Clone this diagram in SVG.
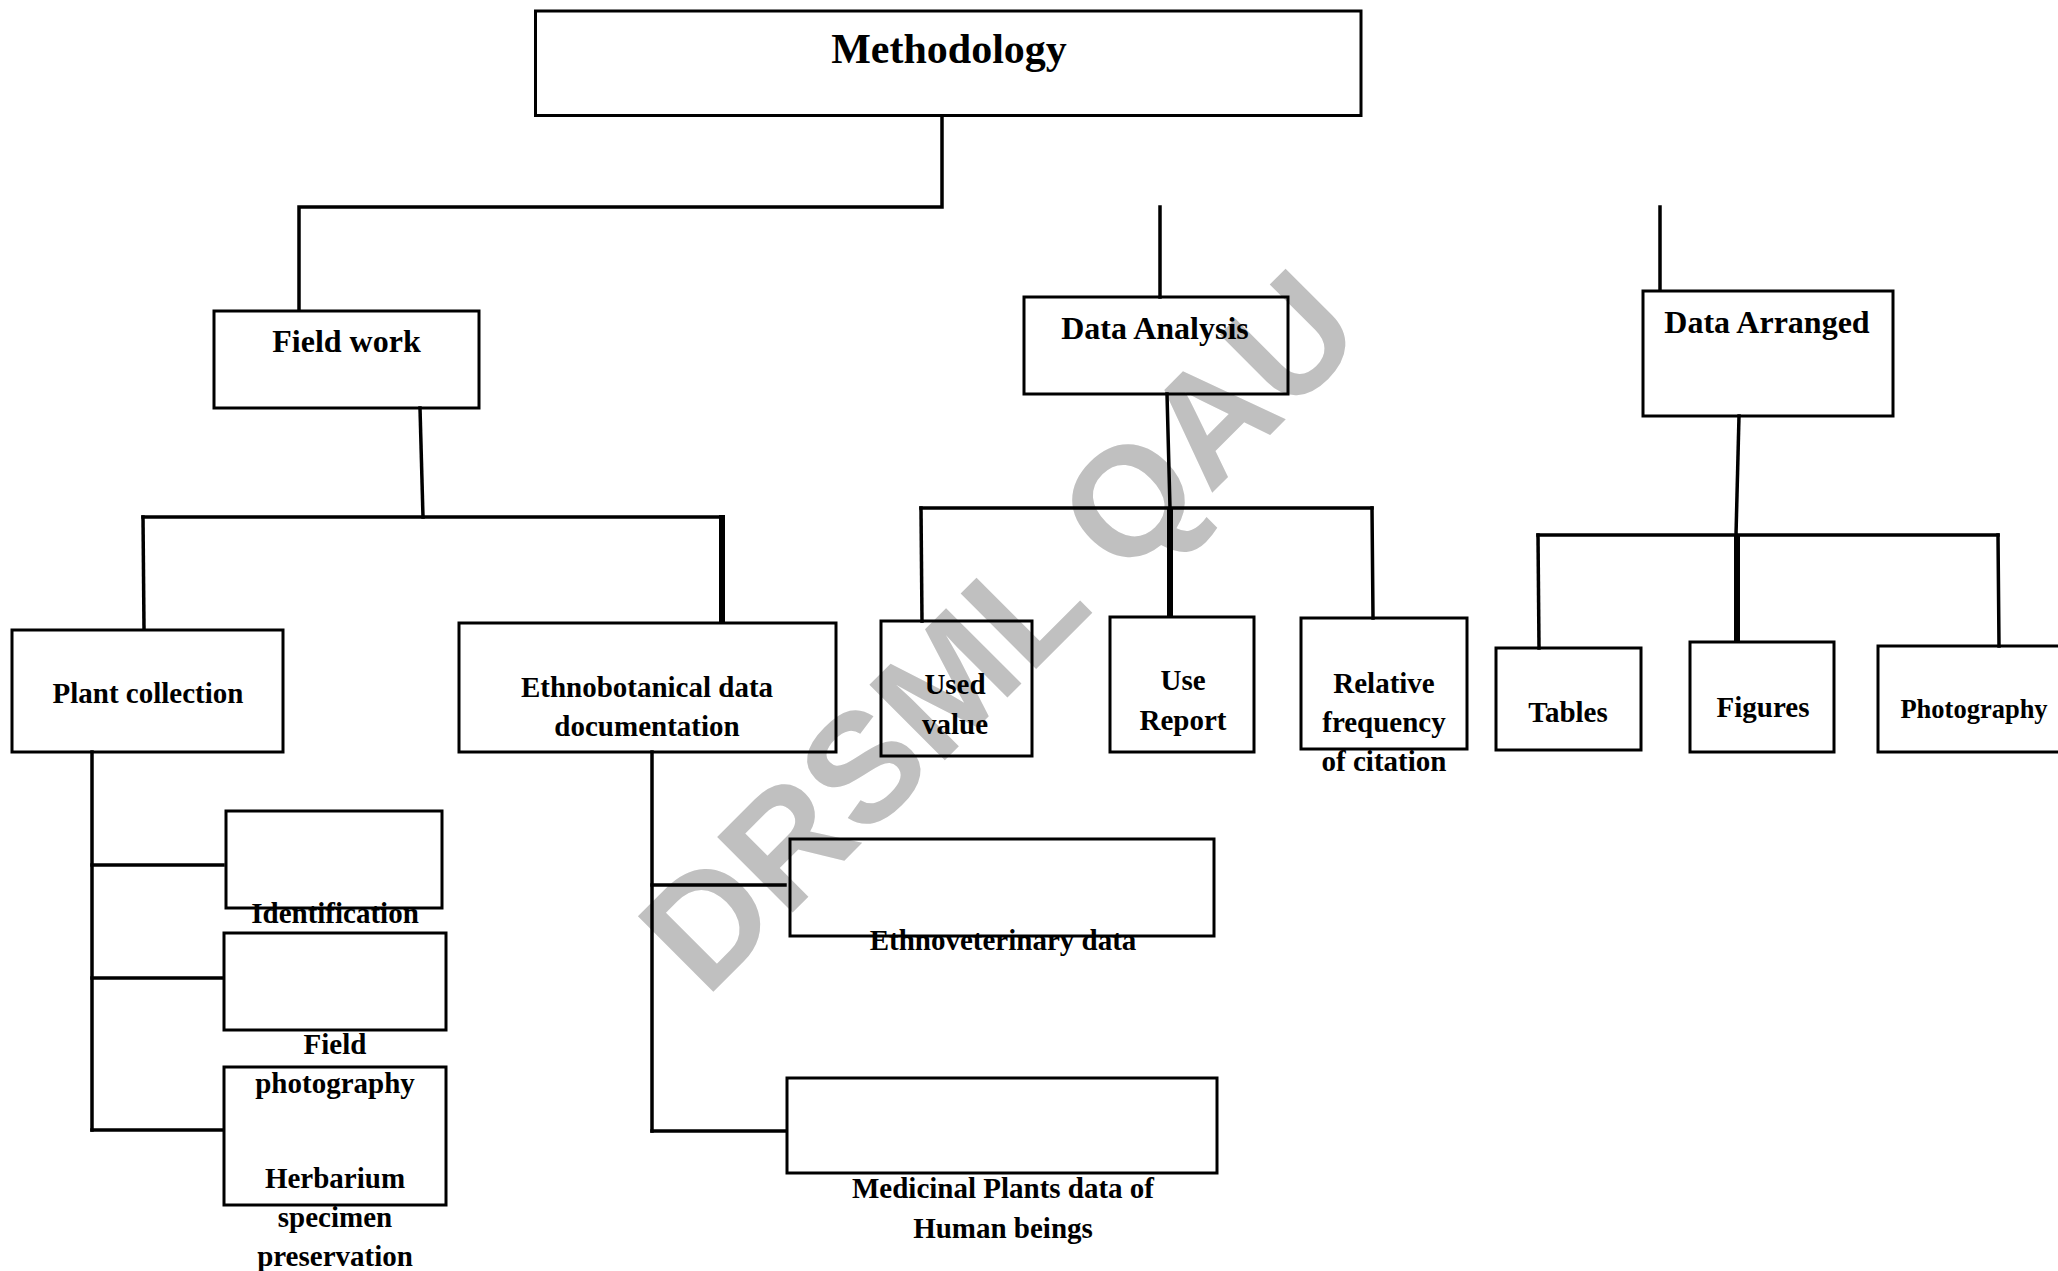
<svg xmlns="http://www.w3.org/2000/svg" width="2058" height="1271" viewBox="0 0 2058 1271">
<style>
.box{fill:none;stroke:#000;stroke-width:3}
.ln{fill:none;stroke:#000;stroke-width:3.5;stroke-linecap:square}
.thk{fill:none;stroke:#000;stroke-width:6}
text{font-family:"Liberation Serif","Times New Roman",serif;font-weight:bold;fill:#000;text-anchor:middle}
.h1{font-size:42px}
.h2{font-size:32px}
.t{font-size:29px}
.s{font-size:26.5px}
.wm{font-family:"Liberation Sans",Arial,sans-serif;font-weight:bold;font-size:155px;fill:#c0c0c0;text-anchor:start}
</style>
<rect width="2058" height="1271" fill="#fff"/>
<text class="wm" transform="translate(706,999) rotate(-45)">DRSML QAU</text>
<g id="connectors">
<path class="ln" d="M942,116 V207 H299 V310"/>
<path class="ln" d="M1160,207 V297"/>
<path class="ln" d="M1660,207 V290"/>
<path class="ln" d="M420,408 L423,517"/>
<path class="ln" d="M143,517 H722"/>
<path class="ln" d="M143,517 L144,629"/>
<path class="thk" d="M722,515 V622"/>
<path class="ln" d="M1167,394 L1170,508"/>
<path class="ln" d="M921,508 H1372"/>
<path class="ln" d="M921,508 L922,621"/>
<path class="thk" d="M1170,508 V616"/>
<path class="ln" d="M1372,508 L1373,618"/>
<path class="ln" d="M1739,416 L1736,535"/>
<path class="ln" d="M1538,535 H1998"/>
<path class="ln" d="M1538,535 L1539,648"/>
<path class="thk" d="M1737,535 V642"/>
<path class="ln" d="M1998,535 L1999,646"/>
<path class="ln" d="M92,752 V1130"/>
<path class="ln" d="M92,865 H223"/>
<path class="ln" d="M92,978 H223"/>
<path class="ln" d="M92,1130 H223"/>
<path class="ln" d="M652,752 V1131"/>
<path class="ln" d="M652,885 H785"/>
<path class="ln" d="M652,1131 H785"/>
</g>
<g id="methodology"><rect class="box" x="535.5" y="11" width="825.5" height="104.5"/><text class="h1" x="949" y="63">Methodology</text></g>
<g id="fieldwork"><rect class="box" x="214" y="311" width="265" height="97"/><text class="h2" x="346.5" y="352">Field work</text></g>
<g id="dataanalysis"><rect class="box" x="1024" y="297" width="264" height="97"/><text class="h2" x="1155" y="339">Data Analysis</text></g>
<g id="dataarranged"><rect class="box" x="1643" y="291" width="250" height="125"/><text class="h2" x="1767" y="333">Data Arranged</text></g>
<g id="plantcollection"><rect class="box" x="12" y="630" width="271" height="122"/><text class="t" x="148" y="703">Plant collection</text></g>
<g id="ethnobotanical"><rect class="box" x="459" y="623" width="377" height="129"/><text class="t" x="647" y="697">Ethnobotanical data</text><text class="t" x="647" y="736">documentation</text></g>
<g id="usedvalue"><rect class="box" x="881" y="621" width="151" height="135"/><text class="t" x="955" y="694">Used</text><text class="t" x="955" y="734">value</text></g>
<g id="usereport"><rect class="box" x="1110" y="617" width="144" height="135"/><text class="t" x="1183" y="690">Use</text><text class="t" x="1183" y="730">Report</text></g>
<g id="relativefrequency"><rect class="box" x="1301" y="618" width="166" height="131"/><text class="t" x="1384" y="693">Relative</text><text class="t" x="1384" y="732">frequency</text><text class="t" x="1384" y="771">of citation</text></g>
<g id="tables"><rect class="box" x="1496" y="648" width="145" height="102"/><text class="t" x="1568" y="722">Tables</text></g>
<g id="figures"><rect class="box" x="1690" y="642" width="144" height="110"/><text class="t" x="1763" y="717">Figures</text></g>
<g id="photography"><rect class="box" x="1878" y="646" width="190" height="106"/><text class="s" x="1974" y="718">Photography</text></g>
<g id="identification"><rect class="box" x="226" y="811" width="216" height="97"/><text class="t" x="335" y="923">Identification</text></g>
<g id="fieldphotography"><rect class="box" x="224" y="933" width="222" height="97"/><text class="t" x="335" y="1054">Field</text><text class="t" x="335" y="1093">photography</text></g>
<g id="herbarium"><rect class="box" x="224" y="1067" width="222" height="138"/><text class="t" x="335" y="1188">Herbarium</text><text class="t" x="335" y="1227">specimen</text><text class="t" x="335" y="1266">preservation</text></g>
<g id="ethnoveterinary"><rect class="box" x="790" y="839" width="424" height="97"/><text class="t" x="1003" y="950">Ethnoveterinary data</text></g>
<g id="medicinal"><rect class="box" x="787" y="1078" width="430" height="95"/><text class="t" x="1003" y="1198">Medicinal Plants data of</text><text class="t" x="1003" y="1238">Human beings</text></g>
</svg>
